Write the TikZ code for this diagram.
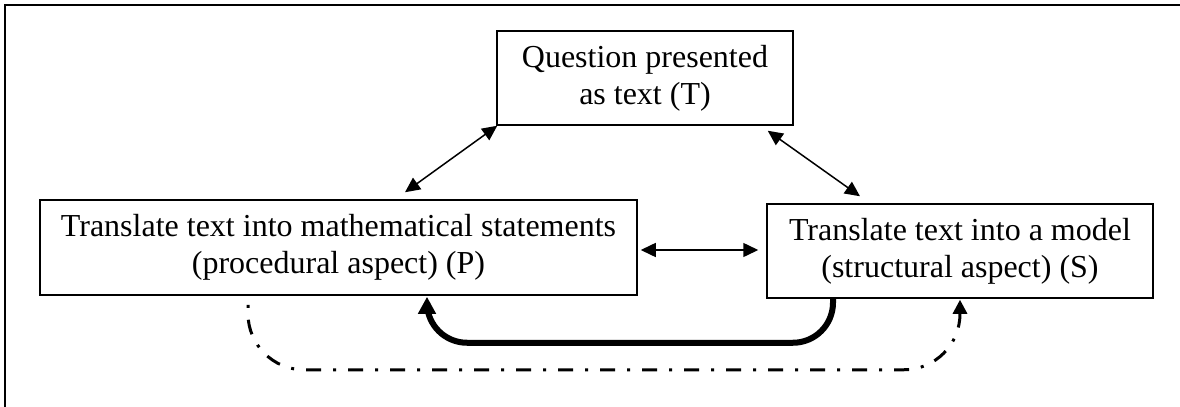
\documentclass[tikz,border=0pt]{standalone}
\usepackage{fontspec}
\setmainfont{Liberation Serif}
\usetikzlibrary{arrows.meta,calc,positioning}

\tikzset{
  box/.style={draw,line width=0.75pt,align=center,inner sep=0pt,
    font=\fontsize{16}{18.4}\selectfont},
  link/.style={line width=0.75pt,{Triangle[length=7.5pt,width=7pt]}-{Triangle[length=7.5pt,width=7pt]}},
  boldlink/.style={line width=3pt,rounded corners=20pt,-{Triangle[length=8.5pt,width=8.5pt]}},
  dotdash/.style={line width=1.5pt,rounded corners=28pt,
    dash pattern=on 1.5pt off 6pt on 7.5pt off 6pt,-{Triangle[length=7pt,width=7pt]}}
}

\begin{document}
\begin{tikzpicture}[x=0.5pt,y=-0.5pt]
  \useasboundingbox (0,0) rectangle (1180,407);
  % outer frame (runs off the right and bottom edges)
  \draw[line width=1pt] (1180,5) -- (5,5) -- (5,407);
  % the three boxes
  \node[box,minimum width=148pt,minimum height=47pt] (quest) at (645,78)
    {Question presented\\as text (T)};
  \node[box,minimum width=298.5pt,minimum height=47.5pt] (proc) at (338.5,247.5)
    {Translate text into mathematical statements\\(procedural aspect) (P)};
  \node[box,minimum width=193pt,minimum height=47pt] (struct) at (960,251)
    {Translate text into a model\\(structural aspect) (S)};
  % two-way links
  \draw[link] ($(quest.south west)+(1,0)$) -- ($(proc.north)+(66.5,-7)$);
  \draw[link] ($(quest.south east)+(-26,5)$) -- ($(struct.north)+(-100,-7)$);
  \draw[link] ($(proc.east)+(3,2.5)$) -- ($(struct.west)+(-8,-1)$);
  % feedback paths underneath
  \draw[boldlink] ($(struct.south)+(-127,0)$) -- ++(0,44) -| ($(proc.south)+(88.5,1)$);
  \draw[dotdash] ($(proc.south)+(-90.5,9)$) -- ++(0,65) -| ($(struct.south)+(0,1)$);
\end{tikzpicture}
\end{document}
